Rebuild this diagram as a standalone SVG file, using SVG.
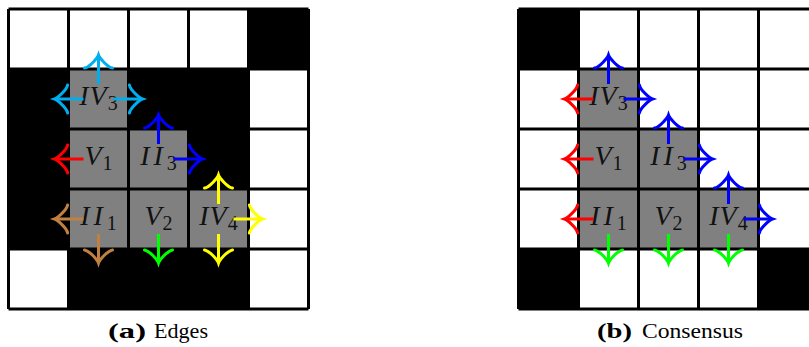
<svg xmlns="http://www.w3.org/2000/svg" xmlns:xlink="http://www.w3.org/1999/xlink" width="809" height="347" viewBox="0 0 809 347">
<style>
.w{fill:#ffffff}
.b{fill:#000000}
.g{fill:#808080}
.grid{stroke:#000;stroke-width:3;fill:none}
.lbl{font-family:"Liberation Serif","Times New Roman",serif;font-size:28px;fill:#111;text-anchor:middle}
.it{font-style:italic}
.sub{font-size:20px}
.sh{stroke-width:3;fill:none;stroke-linecap:butt}
.ah{stroke-width:3;fill:none;stroke-linecap:round}
.cap{font-family:"Liberation Serif","Times New Roman",serif;font-size:21px;fill:#000}
</style>
<defs>
<path id="head" d="M -13.1,14 C -12.25,8.75 -2.6,0.875 0,0 C -2.6,-0.875 -12.25,-8.75 -13.1,-14"/>
<path id="gridlines" d="M0,0 H300 M0,60 H300 M0,120 H300 M0,180 H300 M0,240 H300 M0,300 H300 M0,0 V300 M60,0 V300 M120,0 V300 M180,0 V300 M240,0 V300 M300,0 V300"/>
</defs>

<g id="panel-a" transform="translate(8.5,9)">
  <g id="a-cells">
    <rect class="w" x="0" y="0" width="300" height="300"/>
    <rect class="b" x="240" y="0" width="60" height="60"/>
    <rect class="b" x="0" y="60" width="60" height="180"/>
    <rect class="b" x="120" y="60" width="120" height="60"/>
    <rect class="b" x="180" y="120" width="60" height="60"/>
    <rect class="b" x="60" y="240" width="180" height="60"/>
  </g>
  <g id="a-IV3"><rect class="g" x="60" y="60" width="60" height="60"/></g>
  <g id="a-V1"><rect class="g" x="60" y="120" width="60" height="60"/></g>
  <g id="a-II3"><rect class="g" x="120" y="120" width="60" height="60"/></g>
  <g id="a-II1"><rect class="g" x="60" y="180" width="60" height="60"/></g>
  <g id="a-V2"><rect class="g" x="120" y="180" width="60" height="60"/></g>
  <g id="a-IV4"><rect class="g" x="180" y="180" width="60" height="60"/></g>
  <use xlink:href="#gridlines" class="grid"/>
  <g id="a-labels">
    <text class="lbl" x="90" y="96"><tspan class="it" letter-spacing="1">IV</tspan><tspan class="sub" dy="5">3</tspan></text>
    <text class="lbl" x="90" y="156"><tspan class="it" letter-spacing="1">V</tspan><tspan class="sub" dy="5">1</tspan></text>
    <text class="lbl" x="150" y="156"><tspan class="it" letter-spacing="4">II</tspan><tspan class="sub" dy="5">3</tspan></text>
    <text class="lbl" x="90" y="216"><tspan class="it" letter-spacing="4">II</tspan><tspan class="sub" dy="5">1</tspan></text>
    <text class="lbl" x="150" y="216"><tspan class="it" letter-spacing="1">V</tspan><tspan class="sub" dy="5">2</tspan></text>
    <text class="lbl" x="210" y="216"><tspan class="it" letter-spacing="1">IV</tspan><tspan class="sub" dy="5">4</tspan></text>
  </g>
</g>

<g id="panel-b" transform="translate(518.5,9)">
  <g id="b-cells">
    <rect class="w" x="0" y="0" width="300" height="300"/>
    <rect class="b" x="0" y="0" width="60" height="60"/>
    <rect class="b" x="0" y="240" width="60" height="60"/>
    <rect class="b" x="240" y="240" width="60" height="60"/>
  </g>
  <g id="b-IV3"><rect class="g" x="60" y="60" width="60" height="60"/></g>
  <g id="b-V1"><rect class="g" x="60" y="120" width="60" height="60"/></g>
  <g id="b-II3"><rect class="g" x="120" y="120" width="60" height="60"/></g>
  <g id="b-II1"><rect class="g" x="60" y="180" width="60" height="60"/></g>
  <g id="b-V2"><rect class="g" x="120" y="180" width="60" height="60"/></g>
  <g id="b-IV4"><rect class="g" x="180" y="180" width="60" height="60"/></g>
  <use xlink:href="#gridlines" class="grid"/>
  <g id="b-labels">
    <text class="lbl" x="90" y="96"><tspan class="it" letter-spacing="1">IV</tspan><tspan class="sub" dy="5">3</tspan></text>
    <text class="lbl" x="90" y="156"><tspan class="it" letter-spacing="1">V</tspan><tspan class="sub" dy="5">1</tspan></text>
    <text class="lbl" x="150" y="156"><tspan class="it" letter-spacing="4">II</tspan><tspan class="sub" dy="5">3</tspan></text>
    <text class="lbl" x="90" y="216"><tspan class="it" letter-spacing="4">II</tspan><tspan class="sub" dy="5">1</tspan></text>
    <text class="lbl" x="150" y="216"><tspan class="it" letter-spacing="1">V</tspan><tspan class="sub" dy="5">2</tspan></text>
    <text class="lbl" x="210" y="216"><tspan class="it" letter-spacing="1">IV</tspan><tspan class="sub" dy="5">4</tspan></text>
  </g>
</g>

<g id="connectors">
  <g stroke="#00AEEF">
    <line class="sh" x1="98.5" y1="84" x2="98.5" y2="56"/><use xlink:href="#head" class="ah" transform="translate(98.5,55) rotate(-90)"/>
    <line class="sh" x1="83.5" y1="99" x2="55.5" y2="99"/><use xlink:href="#head" class="ah" transform="translate(54.5,99) rotate(180)"/>
    <line class="sh" x1="113.5" y1="99" x2="141.5" y2="99"/><use xlink:href="#head" class="ah" transform="translate(142.5,99)"/>
  </g>
  <g stroke="#FF0000">
    <line class="sh" x1="83.5" y1="159" x2="55.5" y2="159"/><use xlink:href="#head" class="ah" transform="translate(54.5,159) rotate(180)"/>
  </g>
  <g stroke="#0000FF">
    <line class="sh" x1="158.5" y1="144" x2="158.5" y2="116"/><use xlink:href="#head" class="ah" transform="translate(158.5,115) rotate(-90)"/>
    <line class="sh" x1="173.5" y1="159" x2="201.5" y2="159"/><use xlink:href="#head" class="ah" transform="translate(202.5,159)"/>
  </g>
  <g stroke="#BF8040">
    <line class="sh" x1="83.5" y1="219" x2="55.5" y2="219"/><use xlink:href="#head" class="ah" transform="translate(54.5,219) rotate(180)"/>
    <line class="sh" x1="98.5" y1="234" x2="98.5" y2="262"/><use xlink:href="#head" class="ah" transform="translate(98.5,263) rotate(90)"/>
  </g>
  <g stroke="#00FF00">
    <line class="sh" x1="158.5" y1="234" x2="158.5" y2="262"/><use xlink:href="#head" class="ah" transform="translate(158.5,263) rotate(90)"/>
  </g>
  <g stroke="#FFFF00">
    <line class="sh" x1="218.5" y1="204" x2="218.5" y2="176"/><use xlink:href="#head" class="ah" transform="translate(218.5,175) rotate(-90)"/>
    <line class="sh" x1="233.5" y1="219" x2="261.5" y2="219"/><use xlink:href="#head" class="ah" transform="translate(262.5,219)"/>
    <line class="sh" x1="218.5" y1="234" x2="218.5" y2="262"/><use xlink:href="#head" class="ah" transform="translate(218.5,263) rotate(90)"/>
  </g>

  <g stroke="#0000FF">
    <line class="sh" x1="608.5" y1="84" x2="608.5" y2="56"/><use xlink:href="#head" class="ah" transform="translate(608.5,55) rotate(-90)"/>
    <line class="sh" x1="623.5" y1="99" x2="651.5" y2="99"/><use xlink:href="#head" class="ah" transform="translate(652.5,99)"/>
    <line class="sh" x1="668.5" y1="144" x2="668.5" y2="116"/><use xlink:href="#head" class="ah" transform="translate(668.5,115) rotate(-90)"/>
    <line class="sh" x1="683.5" y1="159" x2="711.5" y2="159"/><use xlink:href="#head" class="ah" transform="translate(712.5,159)"/>
    <line class="sh" x1="728.5" y1="204" x2="728.5" y2="176"/><use xlink:href="#head" class="ah" transform="translate(728.5,175) rotate(-90)"/>
    <line class="sh" x1="743.5" y1="219" x2="771.5" y2="219"/><use xlink:href="#head" class="ah" transform="translate(772.5,219)"/>
  </g>
  <g stroke="#FF0000">
    <line class="sh" x1="593.5" y1="99" x2="565.5" y2="99"/><use xlink:href="#head" class="ah" transform="translate(564.5,99) rotate(180)"/>
    <line class="sh" x1="593.5" y1="159" x2="565.5" y2="159"/><use xlink:href="#head" class="ah" transform="translate(564.5,159) rotate(180)"/>
    <line class="sh" x1="593.5" y1="219" x2="565.5" y2="219"/><use xlink:href="#head" class="ah" transform="translate(564.5,219) rotate(180)"/>
  </g>
  <g stroke="#00FF00">
    <line class="sh" x1="608.5" y1="234" x2="608.5" y2="262"/><use xlink:href="#head" class="ah" transform="translate(608.5,263) rotate(90)"/>
    <line class="sh" x1="668.5" y1="234" x2="668.5" y2="262"/><use xlink:href="#head" class="ah" transform="translate(668.5,263) rotate(90)"/>
    <line class="sh" x1="728.5" y1="234" x2="728.5" y2="262"/><use xlink:href="#head" class="ah" transform="translate(728.5,263) rotate(90)"/>
  </g>
</g>

<g id="captions">
  <text class="cap" x="108" y="338" font-weight="bold" textLength="38" lengthAdjust="spacingAndGlyphs">(a)</text>
  <text class="cap" x="154" y="338" textLength="54" lengthAdjust="spacingAndGlyphs">Edges</text>
  <text class="cap" x="597" y="338" font-weight="bold" textLength="35" lengthAdjust="spacingAndGlyphs">(b)</text>
  <text class="cap" x="642" y="338" textLength="101" lengthAdjust="spacingAndGlyphs">Consensus</text>
</g>
</svg>
